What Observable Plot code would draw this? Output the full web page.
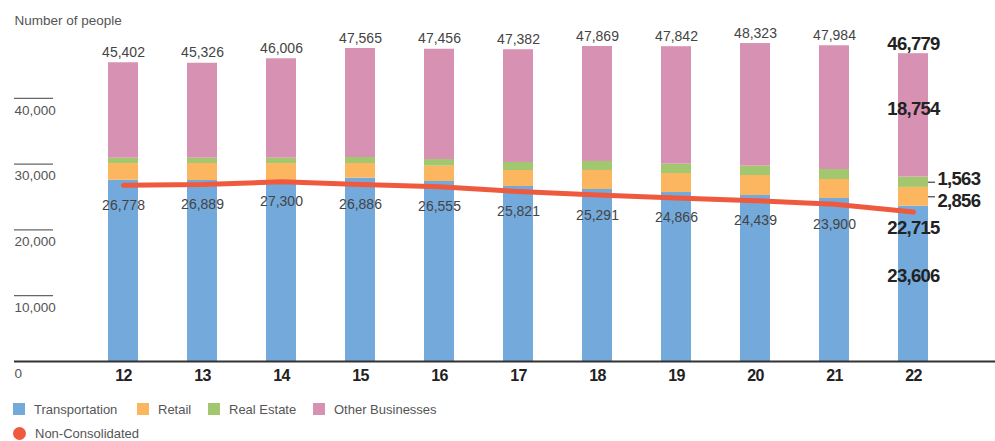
<!DOCTYPE html>
<html>
<head>
<meta charset="utf-8">
<script src="https://cdn.jsdelivr.net/npm/d3@7"></script>
<script src="https://cdn.jsdelivr.net/npm/@observablehq/plot@0.6"></script>
<style>
  html, body { margin: 0; padding: 0; background: #fff; }
  body { width: 995px; height: 441px; position: relative; overflow: hidden; font-family: "Liberation Sans", Arial, sans-serif; }
  #chart { position: absolute; left: 0; top: 0; }
  #chart g[font-weight="bold"] text { letter-spacing: -0.7px; }
  .legend { position: absolute; left: 0; top: 0; width: 995px; height: 441px; pointer-events: none; }
  .item { position: absolute; display: flex; align-items: center; font-size: 13px; color: #555; height: 16px; }
  .sw { width: 12px; height: 12px; margin-right: 9px; }
  .dot { width: 13px; height: 13px; border-radius: 50%; margin-right: 9px; margin-left: 0px; }
</style>
</head>
<body>
<div id="chart"></div>
<div class="legend" id="legend"></div>
<script>
// ---------- data ----------
const years = ["12", "13", "14", "15", "16", "17", "18", "19", "20", "21", "22"];
const segments = ["Transportation", "Retail", "Real Estate", "Other Businesses"];
const transportation = [27550, 27508, 27500, 27860, 27355, 26595, 26140, 25680, 25230, 24770, 23606];
const retail = [2530, 2580, 2580, 2230, 2330, 2430, 2890, 2890, 3040, 2890, 2856];
const realEstate = [810, 810, 810, 910, 1010, 1215, 1370, 1420, 1420, 1520, 1563];
const otherBusinesses = [14512, 14428, 15116, 16565, 16761, 17142, 17469, 17852, 18633, 18804, 18754];
const totals = [45402, 45326, 46006, 47565, 47456, 47382, 47869, 47842, 48323, 47984, 46779];
const nonConsolidated = [26778, 26889, 27300, 26886, 26555, 25821, 25291, 24866, 24439, 23900, 22715];
const yTicks = [0, 10000, 20000, 30000, 40000];
const lineName = "Non-Consolidated";

// ---------- styles ----------
const segColors = ["#73a9db", "#fcb65f", "#a3c76e", "#d691b3"];
const lineColor = "#ef5a3e";
const fmt = d3.format(",");
const boldFont = "'Liberation Sans', Arial, sans-serif";
const bigSize = 18.5;

// ---------- tables ----------
const seriesValues = [transportation, retail, realEstate, otherBusinesses];
const stacked = [];
years.forEach((yr, i) => segments.forEach((s, k) => stacked.push({year: yr, segment: s, value: seriesValues[k][i]})));
const totalRows = years.map((yr, i) => ({year: yr, total: totals[i]}));
const lineRows = years.map((yr, i) => ({year: yr, value: nonConsolidated[i]}));
const last = years.length - 1;
const lastYear = years[last];
const cumBefore = (k) => seriesValues.slice(0, k).reduce((a, s) => a + s[last], 0);
const lastSeg = segments.map((s, k) => ({year: lastYear, segment: s, value: seriesValues[k][last], mid: cumBefore(k) + seriesValues[k][last] / 2}));

const chart = Plot.plot({
  width: 995,
  height: 395,
  marginLeft: 14,
  marginRight: 0,
  marginTop: 0,
  marginBottom: 34,
  x: {domain: years, range: [59, 977], padding: 0.62, axis: null},
  y: {domain: [0, 50000], range: [361, 32], axis: null},
  color: {domain: segments, range: segColors},
  style: {fontFamily: "'Liberation Sans', Arial, sans-serif", background: "transparent"},
  marks: [
    Plot.barY(stacked, {x: "year", y: "value", fill: "segment", order: segments}),
    // y tick lines and labels
    Plot.ruleY(yTicks.filter(d => d > 0), {stroke: "#666", strokeWidth: 1.2, insetRight: 981 - 39}),
    Plot.text(yTicks, {y: d => d, text: d => fmt(d), frameAnchor: "left", textAnchor: "start", dy: 12, fill: "#555", fontSize: 13.5}),
    Plot.text(["Number of people"], {frameAnchor: "top-left", text: d => d, textAnchor: "start", dy: 15, fill: "#555", fontSize: 13.5}),
    // baseline
    Plot.ruleY([0], {stroke: "#333", strokeWidth: 2}),
    Plot.axisX({tickSize: 0, tickPadding: 8, fontSize: 16, fontWeight: "bold", fill: "#222", label: null}),
    // totals
    Plot.text(totalRows.slice(0, last), {x: "year", y: "total", text: d => fmt(d.total), lineAnchor: "bottom", dy: -6, fill: "#444", fontSize: 14}),
    Plot.text(totalRows.slice(last), {x: "year", y: "total", text: d => fmt(d.total), lineAnchor: "bottom", dy: -4, fill: "#222", fontSize: bigSize, fontWeight: "bold", fontFamily: boldFont}),
    // non-consolidated line
    Plot.line(lineRows, {x: "year", y: "value", stroke: lineColor, strokeWidth: 5, strokeLinecap: "round", strokeLinejoin: "round"}),
    Plot.text(lineRows.slice(0, last), {x: "year", y: "value", text: d => fmt(d.value), dy: 20, fill: "#444", fontSize: 14}),
    Plot.text(lineRows.slice(last), {x: "year", y: "value", text: d => fmt(d.value), dy: 16, fill: "#222", fontSize: bigSize, fontWeight: "bold", fontFamily: boldFont}),
    // last-year segment labels
    Plot.text(lastSeg.filter(d => d.segment === "Transportation"), {x: "year", y: "mid", text: d => fmt(d.value), dy: -8, fill: "#222", fontSize: bigSize, fontWeight: "bold", fontFamily: boldFont}),
    Plot.text(lastSeg.filter(d => d.segment === "Other Businesses"), {x: "year", y: "mid", text: d => fmt(d.value), dy: -6, fill: "#222", fontSize: bigSize, fontWeight: "bold", fontFamily: boldFont}),
    Plot.tickY(lastSeg.filter(d => d.segment === "Retail" || d.segment === "Real Estate"), {x: "year", y: "mid", stroke: "#444", strokeWidth: 1.2, dx: 30, insetRight: 23}),
    Plot.text(lastSeg.filter(d => d.segment === "Real Estate"), {x: "year", y: "mid", text: d => fmt(d.value), textAnchor: "start", dx: 24, dy: -3, fill: "#222", fontSize: bigSize, fontWeight: "bold", fontFamily: boldFont}),
    Plot.text(lastSeg.filter(d => d.segment === "Retail"), {x: "year", y: "mid", text: d => fmt(d.value), textAnchor: "start", dx: 24, dy: 4, fill: "#222", fontSize: bigSize, fontWeight: "bold", fontFamily: boldFont})
  ]
});
document.getElementById("chart").append(chart);

// ---------- legend ----------
const legend = document.getElementById("legend");
const legendX = [13, 137, 208, 313];
segments.forEach((s, k) => {
  const it = document.createElement("div");
  it.className = "item";
  it.style.left = legendX[k] + "px";
  it.style.top = "401px";
  it.innerHTML = `<span class="sw" style="background:${segColors[k]}"></span><span>${s}</span>`;
  legend.append(it);
});
const li = document.createElement("div");
li.className = "item";
li.style.left = "13px";
li.style.top = "425px";
li.innerHTML = `<span class="dot" style="background:${lineColor}"></span><span>${lineName}</span>`;
legend.append(li);
</script>
</body>
</html>
